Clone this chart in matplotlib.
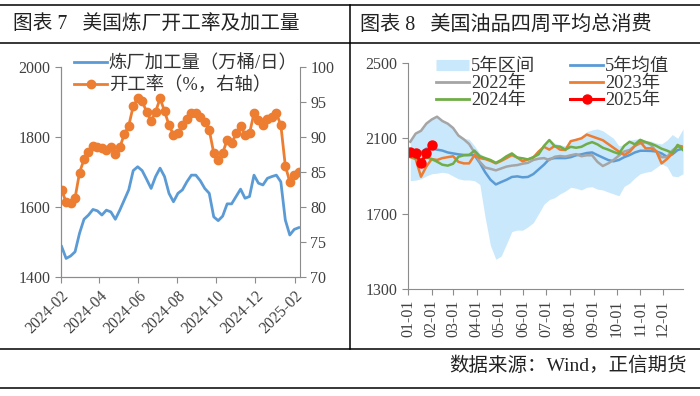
import matplotlib
matplotlib.use('Agg')
import matplotlib.pyplot as plt
import matplotlib.dates as mdates
from matplotlib.lines import Line2D
import numpy as np
import pandas as pd

plt.rcParams['font.family'] = ['Liberation Serif', 'Noto Sans CJK SC']

# ---- left chart: US refinery runs and utilisation (weekly) ----
run_dates = pd.date_range('2024-02-02', periods=54, freq='7D')
refinery_runs = [1487, 1453, 1460, 1472, 1525, 1565, 1577, 1593, 1589, 1577,
                 1591, 1586, 1565, 1591, 1620, 1649, 1704, 1715, 1704, 1679,
                 1653, 1687, 1711, 1687, 1639, 1615, 1639, 1649, 1672, 1691,
                 1691, 1675, 1653, 1639, 1572, 1561, 1574, 1609, 1609, 1630,
                 1651, 1625, 1630, 1691, 1668, 1663, 1682, 1687, 1691, 1672,
                 1563, 1520, 1536, 1541]
utilisation = [82.4, 80.7, 80.6, 81.3, 84.9, 86.8, 87.8, 88.7, 88.6, 88.4,
               88.1, 88.5, 87.6, 88.5, 90.4, 91.6, 94.4, 95.5, 95.1, 93.6,
               92.3, 93.6, 95.5, 93.7, 91.7, 90.3, 90.5, 91.7, 92.5, 93.4,
               93.4, 92.9, 92.2, 91.0, 87.7, 86.7, 87.7, 89.6, 89.1, 90.5,
               91.6, 90.3, 90.5, 93.4, 92.4, 91.7, 92.5, 92.9, 93.4, 91.7,
               85.9, 83.6, 84.6, 85.0]

# ---- right chart: US total product supplied, 4-week average ----
week_day = np.arange(52) * 7 + 3      # day of year of each weekly point
band_high = [2085, 2125, 2140, 2178, 2200, 2215, 2192, 2178, 2155, 2115,
             2100, 2095, 2060, 2020, 2000, 1990, 1975, 1990, 2005, 2020,
             2005, 2000, 1995, 2005, 2035, 2065, 2095, 2075, 2065, 2060,
             2090, 2100, 2110, 2135, 2145, 2150, 2140, 2120, 2100, 2060,
             2065, 2090, 2095, 2100, 2090, 2085, 2075, 2070, 2090, 2120,
             2100, 2150]
band_low = [1875, 1878, 1885, 1900, 1912, 1915, 1920, 1915, 1900, 1885,
            1879, 1879, 1875, 1855, 1680, 1530, 1458, 1475, 1540, 1605,
            1613, 1612, 1630, 1652, 1700, 1750, 1775, 1785, 1805, 1820,
            1840, 1835, 1826, 1840, 1843, 1830, 1826, 1815, 1805, 1795,
            1845, 1862, 1890, 1912, 1920, 1925, 1945, 1965, 1950, 1900,
            1896, 1912]
avg_5y = [2030, 2025, 2025, 2045, 2045, 2040, 2035, 2025, 2020, 2015,
          2012, 2012, 2010, 1970, 1920, 1880, 1855, 1868, 1880, 1895,
          1898, 1893, 1895, 1910, 1935, 1960, 1990, 1995, 1995, 1995,
          2000, 2010, 2015, 2022, 2025, 2011, 1998, 1985, 1978, 1985,
          2000, 2011, 2025, 2034, 2034, 2033, 2030, 2020, 2002, 2015,
          2038, 2045]
y2022 = [2082, 2125, 2140, 2178, 2200, 2215, 2192, 2178, 2155, 2115,
         2095, 2070, 2025, 1975, 1945, 1938, 1930, 1940, 1950, 1955,
         1958, 1965, 1970, 1985, 1992, 1995, 1985, 2002, 2006, 2003,
         2010, 2016, 2005, 2010, 2010, 1975, 1953, 1967, 1985, 2008,
         2030, 2038, 2060, 2073, 2080, 2065, 2030, 2000, 2000, 2035,
         2058, 2047]
y2023 = [2000, 1990, 1896, 1950, 1990, 1985, 1995, 2000, 2005, 1975,
         1967, 1967, 2010, 1995, 1990, 1980, 1967, 1980, 1995, 2011,
         1998, 1978, 1988, 1998, 2030, 2055, 2040, 2060, 2040, 2038,
         2085, 2092, 2100, 2120, 2110, 2100, 2090, 2070, 2050, 2030,
         2012, 2028, 2060, 2082, 2047, 2047, 2032, 1967, 1990, 2020,
         2062, 2056]
y2024 = [2005, 1995, 1985, 2000, 1990, 1976, 1960, 1955, 1965, 2002,
         2010, 2011, 2035, 2005, 1995, 1985, 1970, 1985, 2005, 2020,
         1998, 1994, 1988, 2000, 2015, 2060, 2091, 2058, 2056, 2040,
         2055, 2050, 2055, 2070, 2080, 2068, 2050, 2040, 2028, 2018,
         2060, 2082, 2068, 2092, 2080, 2072, 2060, 2045, 2035, 2022,
         2065, 2038]
y2025 = [2029, 2022, 1968, 2022, 2062]

month_days = [0, 31, 59, 90, 120, 151, 181, 212, 243, 273, 304, 334]
month_labels = ['01-01', '02-01', '03-01', '04-01', '05-01', '06-01',
                '07-01', '08-01', '09-01', '10-01', '11-01', '12-01']

W, H = 700, 396
fig = plt.figure(figsize=(W / 100, H / 100), dpi=100)

def fx(px):
    return px / W

def fy(py):
    return 1 - py / H

spine_c = '#8c8c8c'
tick_c = '#404040'

# frame lines of the two-cell table
for py in (5, 43, 349, 388):
    fig.add_artist(Line2D([0, 1], [fy(py), fy(py)], color='black', lw=1.1,
                          transform=fig.transFigure))
fig.add_artist(Line2D([fx(350), fx(350)], [fy(5), fy(349)], color='black',
                      lw=1.1, transform=fig.transFigure))

fig.text(fx(13), fy(25), '图表 7   美国炼厂开工率及加工量', fontsize=14.2,
         va='center', ha='left', color='#222222')
fig.text(fx(360), fy(25), '图表 8   美国油品四周平均总消费', fontsize=14.5,
         va='center', ha='left', color='#222222')
fig.text(fx(687), fy(366), '数据来源：Wind，正信期货', fontsize=14,
         va='center', ha='right', color='#222222')

# ---- left chart ----
ax1 = fig.add_axes([fx(61), fy(277), fx(300) - fx(61), fy(67) - fy(277)])
ax2 = ax1.twinx()
l1, = ax1.plot(run_dates, refinery_runs, color='#5B9BD5', lw=2.0,
               label='炼厂加工量（万桶/日）')
l2, = ax2.plot(run_dates, utilisation, color='#ED7D31', lw=2.0, marker='o',
               ms=6, label='开工率（%，右轴）')
ax1.set_ylim(1400, 2000)
ax1.set_yticks([1400, 1600, 1800, 2000])
ax2.set_ylim(70, 100)
ax2.set_yticks([70, 75, 80, 85, 90, 95, 100])
ax1.set_xlim(pd.Timestamp('2024-02-01'), pd.Timestamp('2025-02-09'))
ax1.xaxis.set_major_locator(mdates.MonthLocator(bymonth=[2, 4, 6, 8, 10, 12]))
ax1.xaxis.set_major_formatter(mdates.DateFormatter('%Y-%m'))
for a in (ax1, ax2):
    for s in a.spines.values():
        s.set_color(spine_c)
    a.spines['top'].set_visible(False)
    a.tick_params(colors=tick_c, labelsize=11.5, length=4, direction='out')
    a.tick_params(axis='both', color=spine_c)
ax1.spines['right'].set_visible(False)
for lab in ax1.get_xticklabels():
    lab.set_rotation(45)
    lab.set_ha('right')
    lab.set_rotation_mode('anchor')
ax2.legend(handles=[l1, l2], loc='upper left', frameon=False, fontsize=13.2,
           bbox_to_anchor=(fx(74), fy(55)), bbox_transform=fig.transFigure,
           borderpad=0, borderaxespad=0, handlelength=1.8, handletextpad=0.1,
           labelspacing=0.2, labelcolor='#333333')

# ---- right chart ----
ax3 = fig.add_axes([fx(408), fy(289), fx(683) - fx(408), fy(63) - fy(289)])
ax3.fill_between(week_day, band_low, band_high, color='#C9E8FB', lw=0)
ax3.plot(week_day, avg_5y, color='#5B9BD5', lw=1.8)
ax3.plot(week_day, y2022, color='#A5A5A5', lw=1.8)
ax3.plot(week_day, y2023, color='#ED7D31', lw=1.8)
ax3.plot(week_day, y2024, color='#70AD47', lw=1.8)
ax3.plot(week_day[:len(y2025)], y2025, color='#FF0000', lw=2.2, marker='o', ms=6.5)
ax3.set_xlim(0, 360)
ax3.set_ylim(1300, 2500)
ax3.set_yticks([1300, 1700, 2100, 2500])
ax3.set_xticks(month_days)
ax3.set_xticklabels(month_labels, rotation=90)
for s in ('top', 'right'):
    ax3.spines[s].set_visible(False)
for s in ('left', 'bottom'):
    ax3.spines[s].set_color(spine_c)
ax3.tick_params(colors=tick_c, labelsize=11.5, length=4, direction='out')
ax3.tick_params(axis='both', color=spine_c)

handles = [Line2D([], [], color='#C9E8FB', lw=8, solid_capstyle='butt'),
           Line2D([], [], color='#A5A5A5', lw=2),
           Line2D([], [], color='#70AD47', lw=2),
           Line2D([], [], color='#5B9BD5', lw=2),
           Line2D([], [], color='#ED7D31', lw=2),
           Line2D([], [], color='#FF0000', lw=2.2, marker='o', ms=6.5)]
labels = ['5年区间', '2022年', '2024年', '5年均值', '2023年', '2025年']
ax3.legend(handles, labels, ncol=2, loc='upper left', frameon=False,
           fontsize=13.2, bbox_to_anchor=(fx(436), fy(58)),
           bbox_transform=fig.transFigure, borderpad=0, borderaxespad=0,
           handlelength=1.8, handletextpad=0.1, labelspacing=0.0,
           columnspacing=1.9, labelcolor='#333333')

fig.savefig('out.png', dpi=100)
